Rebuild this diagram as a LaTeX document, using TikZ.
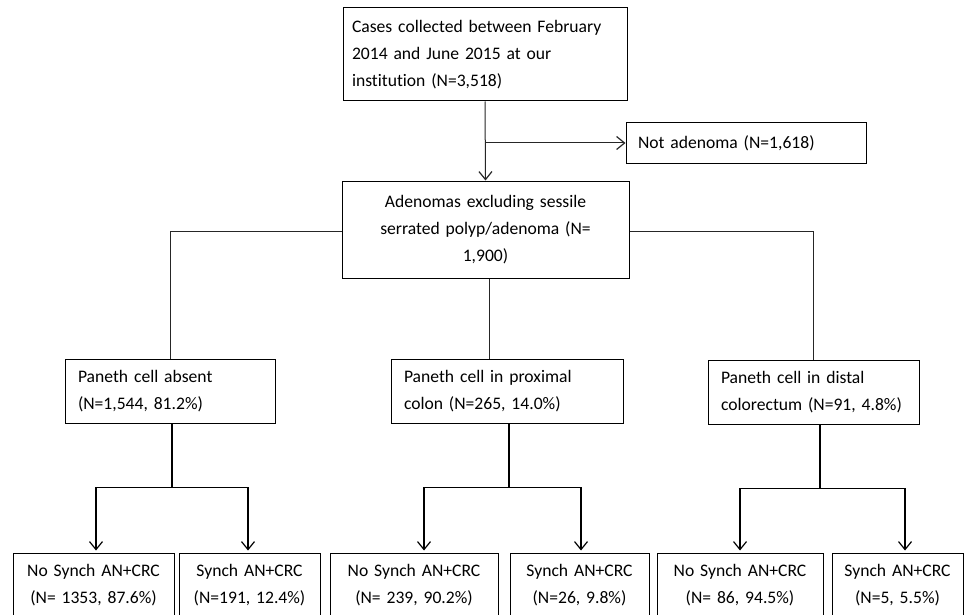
\documentclass[tikz,border=0pt]{standalone}
\usepackage{fontspec}
\setmainfont[Ligatures={NoCommon}]{Carlito}
\usetikzlibrary{arrows.meta,calc}
\begin{document}
\begin{tikzpicture}[x=1pt,y=-1pt,
  box/.style={draw=black,line width=1pt,inner ysep=2pt,font={\fontsize{17.6}{27}\selectfont}},
  lbox/.style={box,align=left},
  cbox/.style={box,align=center},
  thinline/.style={draw=black!85,line width=1pt},
  thickline/.style={draw=black,line width=1.8pt},
  arr/.style={-{Straight Barb[length=8pt,width=13pt,line width=1.2pt]}}
]
\useasboundingbox (0,0) rectangle (966,615);
\fill[white] (0,0) rectangle (966,615);
\clip (0,0) rectangle (966,615);
% top row
\node[lbox,minimum width=284,minimum height=93,inner xsep=9,text width=266] (top) at (485,54.5)
  {Cases collected between February\\2014 and June 2015 at our\\institution (N=3,518)};
\node[lbox,minimum width=240,minimum height=40,inner xsep=12,text width=216] (nota) at (746,143)
  {Not adenoma (N=1,618)};
\node[cbox,minimum width=287,minimum height=97,inner xsep=6,text width=275] (aden) at (485.5,229.5)
  {Adenomas excluding sessile\\serrated polyp/adenoma (N=\\1,900)\vphantom{g}\\[-14pt]};
% middle row
\node[lbox,minimum width=210,minimum height=64,inner xsep=13,text width=184] (left) at (170,391)
  {Paneth cell absent\\(N=1,544, 81.2\%)};
\node[lbox,minimum width=232,minimum height=64,inner xsep=13,text width=206] (mid) at (507,391)
  {Paneth cell in proximal\\colon (N=265, 14.0\%)};
\node[lbox,minimum width=211,minimum height=64,inner xsep=13,text width=185] (right) at (813.5,392)
  {Paneth cell in distal\\colorectum (N=91, 4.8\%)};
% bottom row
\node[cbox,minimum width=161,minimum height=64,inner xsep=3,text width=155] (b1) at (93.5,585)
  {No Synch AN+CRC\\(N= 1353, 87.6\%)};
\node[cbox,minimum width=141,minimum height=64,inner xsep=3,text width=135] (b2) at (249.5,585)
  {Synch AN+CRC\\(N=191, 12.4\%)};
\node[cbox,minimum width=168,minimum height=64,inner xsep=3,text width=162] (b3) at (414,585)
  {No Synch AN+CRC\\(N= 239, 90.2\%)};
\node[cbox,minimum width=139,minimum height=64,inner xsep=3,text width=133] (b4) at (579.5,585)
  {Synch AN+CRC\\(N=26, 9.8\%)};
\node[cbox,minimum width=166,minimum height=64,inner xsep=3,text width=160] (b5) at (740,585)
  {No Synch AN+CRC\\(N= 86, 94.5\%)};
\node[cbox,minimum width=131,minimum height=64,inner xsep=3,text width=125] (b6) at (897.5,585)
  {Synch AN+CRC\\(N=5, 5.5\%)};
% upper connectors
\draw[thinline,arr] (top.south) -- (aden.north);
\draw[thinline,arr] (top.south |- nota.west) -- (nota.west);
\draw[thinline] ($(aden.west)+(0,1.5)$) -| (left.north);
\draw[thinline] ($(aden.east)+(0,1.5)$) -| (right.north);
\draw[thinline] ($(aden.south)+(3.5,0)$) -- ($(aden.south |- mid.north)+(3.5,0)$);
% lower connectors
\coordinate (jl) at ($(left.south)+(2,64)$);
\coordinate (jm) at ($(mid.south)+(2,64)$);
\coordinate (jr) at ($(right.south)+(6.5,64)$);
\draw[thickline] ($(left.south)+(2,0)$) -- (jl);
\draw[thickline] ($(mid.south)+(2,0)$) -- (jm);
\draw[thickline] ($(right.south)+(6.5,0)$) -- (jr);
\draw[thickline,arr] (jl) -| ($(b1.north)+(2.5,-2)$);
\draw[thickline,arr] (jl) -| ($(b2.north)+(-1.5,-2)$);
\draw[thickline,arr] (jm) -| ($(b3.north)+(10,-2)$);
\draw[thickline,arr] (jm) -| ($(b4.north)+(1.5,-2)$);
\draw[thickline,arr] (jr) -| ($(b5.north)+(0,-2)$);
\draw[thickline,arr] (jr) -| ($(b6.north)+(7.5,-2)$);
\end{tikzpicture}
\end{document}
